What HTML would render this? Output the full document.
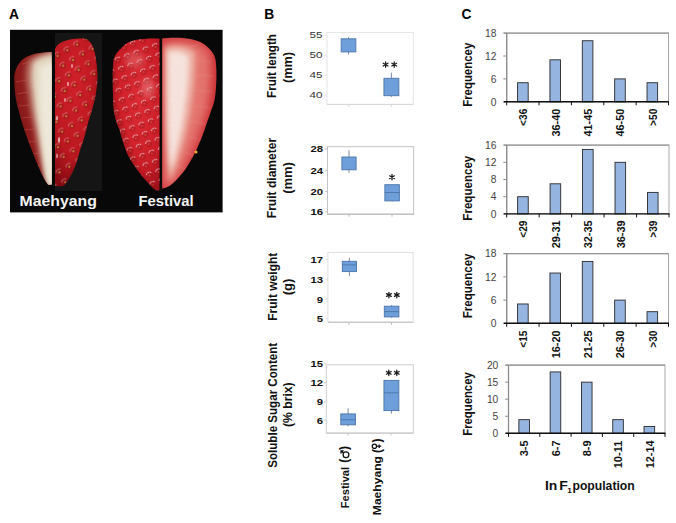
<!DOCTYPE html>
<html><head><meta charset="utf-8"><style>
html,body{margin:0;padding:0;background:#fff;}
body{width:676px;height:523px;overflow:hidden;}
svg{display:block;font-family:"Liberation Sans", sans-serif;}
</style></head><body>
<svg width="676" height="523" viewBox="0 0 676 523">
<rect width="676" height="523" fill="#fff"/>
<text x="9.00" y="18.70" font-size="13.8" font-weight="bold" fill="#000" text-anchor="start" >A</text>
<text x="264.20" y="18.80" font-size="13.8" font-weight="bold" fill="#000" text-anchor="start" >B</text>
<text x="461.50" y="18.70" font-size="13.8" font-weight="bold" fill="#000" text-anchor="start" >C</text>
<defs>
<filter id="b1" x="-20%" y="-20%" width="140%" height="140%"><feGaussianBlur stdDeviation="1"/></filter>
<filter id="b2" x="-30%" y="-30%" width="160%" height="160%"><feGaussianBlur stdDeviation="2.5"/></filter>
<filter id="b3" x="-30%" y="-30%" width="160%" height="160%"><feGaussianBlur stdDeviation="4"/></filter>
<filter id="b05"><feGaussianBlur stdDeviation="0.5"/></filter>
<radialGradient id="mskin" cx="0.45" cy="0.3" r="0.75">
  <stop offset="0" stop-color="#d0202a"/>
  <stop offset="0.65" stop-color="#bc1820"/>
  <stop offset="1" stop-color="#840a12"/>
</radialGradient>
<radialGradient id="fskin" cx="0.55" cy="0.4" r="0.75">
  <stop offset="0" stop-color="#dc2c34"/>
  <stop offset="0.6" stop-color="#cc1e28"/>
  <stop offset="1" stop-color="#8e0e18"/>
</radialGradient>
<linearGradient id="medge" x1="0" y1="0" x2="1" y2="0">
  <stop offset="0" stop-color="#7a1014"/>
  <stop offset="0.35" stop-color="#a82a2c"/>
  <stop offset="1" stop-color="#c46a60"/>
</linearGradient>
<linearGradient id="fcut" x1="0" y1="0" x2="1" y2="0">
  <stop offset="0" stop-color="#c8323a"/>
  <stop offset="0.5" stop-color="#e0646a"/>
  <stop offset="1" stop-color="#c42a34"/>
</linearGradient>
<clipPath id="cpM1"><path d="M51.7,52 C42,52 30,54 23.4,58.7 C17,64 14.2,72 14.2,78 C14.5,92 16,102 18.6,110 C22,124 27,138 31,148.2 C34,156 36.5,162 38.7,167.3 C42,175 45,181 48.2,184.8 L51.7,184.5 Z"/></clipPath>
<clipPath id="cpF2"><path d="M162.2,38.5 C170,37.5 182,37.5 190,39 C200,40.5 206,45 209.6,49.1 C213,53 215.3,56 215.8,62 C216.8,72 216.6,85 215,97 C214,104 212,108 210.6,112 C208,120 206,125 204.8,129.1 C202,137 200,142 197.2,148.2 C193,157 190,162 186.7,167.3 C182,174 177,180 172,184 C169,186.5 166,188.3 162.2,188.6 Z"/></clipPath>
<pattern id="fseed" patternUnits="userSpaceOnUse" width="14" height="14" patternTransform="rotate(25) translate(3 1)">
  <circle cx="3.5" cy="3.5" r="3.2" fill="#a00e1a" opacity="0.4"/>
  <circle cx="10.5" cy="10.5" r="3.2" fill="#a00e1a" opacity="0.4"/>
  <path d="M0.9,5.0 A3,3 0 0 1 4.2,0.6" stroke="#fbe0e0" stroke-width="1" fill="none" opacity="0.75"/>
  <path d="M7.9,12.0 A3,3 0 0 1 11.2,7.6" stroke="#fbe0e0" stroke-width="1" fill="none" opacity="0.75"/>
  <circle cx="3.8" cy="3.9" r="0.6" fill="#e8c070" opacity="0.7"/>
  <circle cx="10.8" cy="10.9" r="0.6" fill="#e8c070" opacity="0.7"/>
</pattern>
<pattern id="mseed" patternUnits="userSpaceOnUse" width="16" height="16" patternTransform="rotate(15) translate(2 3)">
  <circle cx="4" cy="4" r="3.1" fill="#8c0c14" opacity="0.35"/>
  <circle cx="12" cy="12" r="3.1" fill="#8c0c14" opacity="0.35"/>
  <path d="M1.2,5.6 A3.1,3.1 0 0 1 4.4,0.9" stroke="#f0c8c0" stroke-width="0.8" fill="none" opacity="0.65"/>
  <path d="M9.2,13.6 A3.1,3.1 0 0 1 12.4,8.9" stroke="#f0c8c0" stroke-width="0.8" fill="none" opacity="0.65"/>
  <circle cx="4.1" cy="4.2" r="1.1" fill="#b89840" opacity="0.9"/>
  <circle cx="12.1" cy="12.2" r="1.1" fill="#b89840" opacity="0.9"/>
</pattern>
</defs>
<g id="photo">
<rect x="10" y="29.8" width="212.6" height="182.6" fill="#080808"/>
<rect x="55" y="33" width="47" height="158" fill="#151515"/>

<!-- Maehyang cut half -->
<g clip-path="url(#cpM1)">
  <rect x="10" y="45" width="45" height="145" fill="#8e1c1c"/>
  <path d="M56,50 C46,50 36,53 28,60 C24,68 25,80 27,90 C29,105 31,118 34,130 C36,142 38,155 41,166 C43,175 45,182 46,188 L56,188 Z" fill="#b06458" filter="url(#b2)"/>
  <path d="M56,54 C47,54 39,57 33,62 C31,70 31,80 32.5,90 C34,105 35.5,118 38,130 C40,142 42,155 43.5,166 C45,175 46,182 47,188 L56,188 Z" fill="#e2d6c0" filter="url(#b2)"/>
  <path d="M56,62 C50,62 44,64 40,68 C39,80 39,95 40,108 C41,125 43,145 45,160 C46,170 47,178 48,184 L56,186 Z" fill="#eee8da" filter="url(#b2)"/>
  <g stroke="#c86a60" stroke-width="1.2" opacity="0.4" fill="none" filter="url(#b05)">
    <path d="M16,82 L27,80"/><path d="M17,94 L28,92"/><path d="M19,106 L30,105"/><path d="M21,118 L32,117"/><path d="M24,130 L34,129"/><path d="M28,142 L37,141"/><path d="M32,154 L39,153"/><path d="M36,166 L42,165"/><path d="M22,64 L30,62"/>
  </g>
  <path d="M14,60 C14,110 30,160 48,186 L10,190 L10,50 Z" fill="#3a0406" opacity="0.3" filter="url(#b2)"/>
</g>

<!-- Maehyang skin half -->
<clipPath id="cpM2"><path d="M55,49 C57,44 62,41 70,39.5 C76,38.6 82.5,38.2 86,39 C91,41 93.5,47 94.9,53 C96.5,62 97.6,70 97.4,78 C97.3,88 95,100 93,106.4 C91,114 88.5,120 87,127 C84.5,137 83,142 80.6,148.2 C78,157 77,162 74.8,167.3 C72,174 68,181 64.3,185.5 C61,186.5 58,186.5 55,186 Z"/></clipPath>
<g clip-path="url(#cpM2)">
  <rect x="54" y="36" width="46" height="152" fill="url(#mskin)"/>
  <rect x="54" y="36" width="46" height="152" fill="url(#mseed)"/>
  <g fill="#f2dada" opacity="0.75" filter="url(#b05)"><ellipse cx="57" cy="118" rx="0.9" ry="2.6"/><ellipse cx="59" cy="140" rx="1.1" ry="3"/><ellipse cx="57" cy="156" rx="0.8" ry="2.4"/><ellipse cx="68" cy="84" rx="0.9" ry="2.2"/><ellipse cx="72" cy="66" rx="0.8" ry="2"/><ellipse cx="65" cy="100" rx="0.8" ry="2"/></g>
  <path d="M100,40 C98,100 90,150 60,190 L110,190 L110,40 Z" fill="#5a060a" opacity="0.4" filter="url(#b2)"/>
</g>

<!-- Festival skin half -->
<clipPath id="cpF1"><path d="M159.5,38.6 C150,38.4 140,39 133.7,40.5 C128,42 124,45 122.2,47.2 C118,51 115,55 113.6,58.7 C112.6,66 112.6,80 113,95 C113.2,104 113.6,110 114.6,115 C116,121 117.5,125 119.3,129.1 C121,136 123,142 125.1,148.2 C128,156 131,161 135.6,167.3 C140,174 146,181 151,186 C153,188 155,190 156.6,190.3 L159.5,190.5 Z"/></clipPath>
<g clip-path="url(#cpF1)">
  <rect x="110" y="36" width="52" height="158" fill="url(#fskin)"/>
  <rect x="110" y="36" width="52" height="158" fill="url(#fseed)"/>
  <ellipse cx="148" cy="88" rx="7" ry="10" fill="#f4b4b4" opacity="0.35" filter="url(#b2)"/>
  <ellipse cx="135" cy="60" rx="10" ry="8" fill="#f0a0a0" opacity="0.3" filter="url(#b2)"/>
  <path d="M113,55 C112,110 125,160 157,192 L105,195 L105,50 Z" fill="#6a0810" opacity="0.35" filter="url(#b2)"/>
</g>

<!-- Festival cut half -->
<g clip-path="url(#cpF2)">
  <rect x="160" y="35" width="60" height="160" fill="#d23c40"/>
  <path d="M164,43 C180,40 200,42 208,52 C213,70 210,100 203,120 C196,140 188,160 178,178 C172,186 166,188 164,186 Z" fill="#e4746e" filter="url(#b3)"/>
  <path d="M165,47 C175,44 188,45 195,52 C196,75 193,100 188,125 C184,145 177,165 170,181 C167,170 165,120 165,80 Z" fill="#ecaea2" filter="url(#b2)"/>
  <path d="M168,52 C175,50 184,51 189,57 C189,80 186,100 183,120 C180,138 176,154 171,170 C168,150 168,110 168,80 Z" fill="#f6e2dc" filter="url(#b2)"/>
  <g stroke="#f0a098" stroke-width="1.2" opacity="0.35" fill="none" filter="url(#b1)">
    <path d="M190,60 L212,62"/><path d="M189,75 L214,76"/><path d="M188,90 L213,92"/><path d="M186,105 L211,108"/><path d="M184,120 L206,124"/><path d="M181,135 L201,140"/><path d="M178,150 L195,156"/><path d="M175,165 L187,170"/><path d="M185,48 L200,44"/>
  </g>
  <g fill="#fff4f0" opacity="0.8">
    <circle cx="172" cy="70" r="0.7"/><circle cx="175" cy="85" r="0.6"/><circle cx="173" cy="100" r="0.7"/><circle cx="176" cy="112" r="0.6"/><circle cx="172" cy="125" r="0.7"/><circle cx="174" cy="138" r="0.6"/><circle cx="171" cy="150" r="0.6"/><circle cx="178" cy="62" r="0.6"/>
  </g>
  <path d="M214,50 C219,100 207,150 172,193 L225,195 L225,40 Z" fill="#b01a22" opacity="0.35" filter="url(#b2)"/>
</g>
<circle cx="196" cy="152" r="1.5" fill="#e8b030"/>
</g>
<text x="19.6" y="206" font-size="14.6" font-weight="bold" fill="#f4f4f4" textLength="77.2" lengthAdjust="spacingAndGlyphs">Maehyang</text>
<text x="138.5" y="206" font-size="14.6" font-weight="bold" fill="#f4f4f4" textLength="55.2" lengthAdjust="spacingAndGlyphs">Festival</text>

<rect x="327" y="32.5" width="86.30" height="71.90" fill="#fff" stroke="#e6e6e6" stroke-width="1"/>
<line x1="327" y1="104.4" x2="413.3" y2="104.4" stroke="#d8d8d8" stroke-width="1"/>
<line x1="348.8" y1="104.4" x2="348.8" y2="106.9" stroke="#d8d8d8" stroke-width="1"/>
<line x1="391.3" y1="104.4" x2="391.3" y2="106.9" stroke="#d8d8d8" stroke-width="1"/>
<line x1="324.5" y1="35.4" x2="327" y2="35.4" stroke="#e6e6e6" stroke-width="1"/>
<text x="322.50" y="38.00" font-size="9.2" font-weight="normal" fill="#333" text-anchor="end" textLength="13.00" lengthAdjust="spacingAndGlyphs" >55</text>
<line x1="324.5" y1="55.3" x2="327" y2="55.3" stroke="#e6e6e6" stroke-width="1"/>
<text x="322.50" y="57.90" font-size="9.2" font-weight="normal" fill="#333" text-anchor="end" textLength="13.00" lengthAdjust="spacingAndGlyphs" >50</text>
<line x1="324.5" y1="75.4" x2="327" y2="75.4" stroke="#e6e6e6" stroke-width="1"/>
<text x="322.50" y="78.00" font-size="9.2" font-weight="normal" fill="#333" text-anchor="end" textLength="13.00" lengthAdjust="spacingAndGlyphs" >45</text>
<line x1="324.5" y1="95.2" x2="327" y2="95.2" stroke="#e6e6e6" stroke-width="1"/>
<text x="322.50" y="97.80" font-size="9.2" font-weight="normal" fill="#333" text-anchor="end" textLength="13.00" lengthAdjust="spacingAndGlyphs" >40</text>
<line x1="348.5" y1="37.2" x2="348.5" y2="54.6" stroke="#7a8ea8" stroke-width="1"/>
<rect x="341.15" y="38.8" width="14.7" height="13.10" fill="#6e9fda" stroke="#4c74a8" stroke-width="0.9"/>
<line x1="391.4" y1="72.6" x2="391.4" y2="96.9" stroke="#7a8ea8" stroke-width="1"/>
<rect x="383.95" y="78.3" width="14.9" height="17.40" fill="#6e9fda" stroke="#4c74a8" stroke-width="0.9"/>
<path d="M385.60,61.85 L385.60,67.35 M383.22,63.22 L387.98,65.97 M387.98,63.22 L383.22,65.97 " stroke="#1a1a1a" stroke-width="1.25" stroke-linecap="round"/>
<path d="M394.20,61.85 L394.20,67.35 M391.82,63.22 L396.58,65.97 M396.58,63.22 L391.82,65.97 " stroke="#1a1a1a" stroke-width="1.25" stroke-linecap="round"/>
<rect x="327.5" y="146.7" width="86.10" height="67.50" fill="#fff" stroke="#c4c4c4" stroke-width="1"/>
<line x1="327.5" y1="214.2" x2="413.6" y2="214.2" stroke="#b8b8b8" stroke-width="1"/>
<line x1="349" y1="214.2" x2="349" y2="216.7" stroke="#b8b8b8" stroke-width="1"/>
<line x1="392" y1="214.2" x2="392" y2="216.7" stroke="#b8b8b8" stroke-width="1"/>
<line x1="325.0" y1="148.9" x2="327.5" y2="148.9" stroke="#c4c4c4" stroke-width="1"/>
<text x="323.00" y="152.30" font-size="9.4" font-weight="bold" fill="#111" text-anchor="end" textLength="12.60" lengthAdjust="spacingAndGlyphs" >28</text>
<line x1="325.0" y1="170.2" x2="327.5" y2="170.2" stroke="#c4c4c4" stroke-width="1"/>
<text x="323.00" y="173.60" font-size="9.4" font-weight="bold" fill="#111" text-anchor="end" textLength="12.60" lengthAdjust="spacingAndGlyphs" >24</text>
<line x1="325.0" y1="191.5" x2="327.5" y2="191.5" stroke="#c4c4c4" stroke-width="1"/>
<text x="323.00" y="194.90" font-size="9.4" font-weight="bold" fill="#111" text-anchor="end" textLength="12.60" lengthAdjust="spacingAndGlyphs" >20</text>
<line x1="325.0" y1="211.9" x2="327.5" y2="211.9" stroke="#c4c4c4" stroke-width="1"/>
<text x="323.00" y="215.30" font-size="9.4" font-weight="bold" fill="#111" text-anchor="end" textLength="12.60" lengthAdjust="spacingAndGlyphs" >16</text>
<line x1="349" y1="150.3" x2="349" y2="172.8" stroke="#7a8ea8" stroke-width="1"/>
<rect x="341.90" y="157" width="14.2" height="12.80" fill="#6e9fda" stroke="#4c74a8" stroke-width="0.9"/>
<line x1="392.1" y1="184.7" x2="392.1" y2="201.5" stroke="#7a8ea8" stroke-width="1"/>
<rect x="384.85" y="184.7" width="14.5" height="16.20" fill="#6e9fda" stroke="#4c74a8" stroke-width="0.9"/>
<line x1="384.85" y1="192.5" x2="399.35" y2="192.5" stroke="#4c74a8" stroke-width="0.9"/>
<path d="M392.00,174.45 L392.00,179.95 M389.62,175.82 L394.38,178.57 M394.38,175.82 L389.62,178.57 " stroke="#1a1a1a" stroke-width="1.25" stroke-linecap="round"/>
<rect x="327.9" y="252.5" width="85.20" height="69.70" fill="#fff" stroke="#e0e0e0" stroke-width="1"/>
<line x1="327.9" y1="322.2" x2="413.1" y2="322.2" stroke="#bcbcbc" stroke-width="1"/>
<line x1="349" y1="322.2" x2="349" y2="324.7" stroke="#bcbcbc" stroke-width="1"/>
<line x1="391.5" y1="322.2" x2="391.5" y2="324.7" stroke="#bcbcbc" stroke-width="1"/>
<line x1="325.4" y1="259.6" x2="327.9" y2="259.6" stroke="#e0e0e0" stroke-width="1"/>
<text x="323.00" y="263.00" font-size="9.4" font-weight="bold" fill="#111" text-anchor="end" textLength="12.60" lengthAdjust="spacingAndGlyphs" >17</text>
<line x1="325.4" y1="279.6" x2="327.9" y2="279.6" stroke="#e0e0e0" stroke-width="1"/>
<text x="323.00" y="283.00" font-size="9.4" font-weight="bold" fill="#111" text-anchor="end" textLength="12.60" lengthAdjust="spacingAndGlyphs" >13</text>
<line x1="325.4" y1="299.1" x2="327.9" y2="299.1" stroke="#e0e0e0" stroke-width="1"/>
<text x="323.00" y="302.50" font-size="9.4" font-weight="bold" fill="#111" text-anchor="end" textLength="6.30" lengthAdjust="spacingAndGlyphs" >9</text>
<line x1="325.4" y1="318.7" x2="327.9" y2="318.7" stroke="#e0e0e0" stroke-width="1"/>
<text x="323.00" y="322.10" font-size="9.4" font-weight="bold" fill="#111" text-anchor="end" textLength="6.30" lengthAdjust="spacingAndGlyphs" >5</text>
<line x1="349.4" y1="257.8" x2="349.4" y2="276.1" stroke="#7a8ea8" stroke-width="1"/>
<rect x="342.30" y="261.3" width="14.2" height="10.30" fill="#6e9fda" stroke="#4c74a8" stroke-width="0.9"/>
<line x1="342.30" y1="264.9" x2="356.50" y2="264.9" stroke="#4c74a8" stroke-width="0.9"/>
<line x1="391.6" y1="305" x2="391.6" y2="317.8" stroke="#7a8ea8" stroke-width="1"/>
<rect x="384.30" y="306.2" width="14.6" height="10.70" fill="#6e9fda" stroke="#4c74a8" stroke-width="0.9"/>
<line x1="384.30" y1="311.6" x2="398.90" y2="311.6" stroke="#4c74a8" stroke-width="0.9"/>
<path d="M388.90,292.25 L388.90,297.75 M386.52,293.62 L391.28,296.38 M391.28,293.62 L386.52,296.38 " stroke="#1a1a1a" stroke-width="1.25" stroke-linecap="round"/>
<path d="M396.80,292.25 L396.80,297.75 M394.42,293.62 L399.18,296.38 M399.18,293.62 L394.42,296.38 " stroke="#1a1a1a" stroke-width="1.25" stroke-linecap="round"/>
<rect x="326.3" y="364.8" width="87.00" height="68.30" fill="#fff" stroke="#cfcfcf" stroke-width="1"/>
<line x1="326.3" y1="433.1" x2="413.3" y2="433.1" stroke="#c4c4c4" stroke-width="1"/>
<line x1="348" y1="433.1" x2="348" y2="435.6" stroke="#c4c4c4" stroke-width="1"/>
<line x1="391" y1="433.1" x2="391" y2="435.6" stroke="#c4c4c4" stroke-width="1"/>
<line x1="323.8" y1="363.9" x2="326.3" y2="363.9" stroke="#cfcfcf" stroke-width="1"/>
<text x="323.00" y="367.30" font-size="9.4" font-weight="bold" fill="#111" text-anchor="end" textLength="12.60" lengthAdjust="spacingAndGlyphs" >15</text>
<line x1="323.8" y1="383" x2="326.3" y2="383" stroke="#cfcfcf" stroke-width="1"/>
<text x="323.00" y="386.40" font-size="9.4" font-weight="bold" fill="#111" text-anchor="end" textLength="12.60" lengthAdjust="spacingAndGlyphs" >12</text>
<line x1="323.8" y1="402" x2="326.3" y2="402" stroke="#cfcfcf" stroke-width="1"/>
<text x="323.00" y="405.40" font-size="9.4" font-weight="bold" fill="#111" text-anchor="end" textLength="6.30" lengthAdjust="spacingAndGlyphs" >9</text>
<line x1="323.8" y1="420.3" x2="326.3" y2="420.3" stroke="#cfcfcf" stroke-width="1"/>
<text x="323.00" y="423.70" font-size="9.4" font-weight="bold" fill="#111" text-anchor="end" textLength="6.30" lengthAdjust="spacingAndGlyphs" >6</text>
<line x1="348.1" y1="408.3" x2="348.1" y2="426.4" stroke="#7a8ea8" stroke-width="1"/>
<rect x="340.80" y="413.9" width="14.6" height="10.90" fill="#6e9fda" stroke="#4c74a8" stroke-width="0.9"/>
<line x1="340.80" y1="419.8" x2="355.40" y2="419.8" stroke="#4c74a8" stroke-width="0.9"/>
<line x1="391.4" y1="380.4" x2="391.4" y2="413.6" stroke="#7a8ea8" stroke-width="1"/>
<rect x="383.95" y="380.4" width="14.9" height="30.20" fill="#6e9fda" stroke="#4c74a8" stroke-width="0.9"/>
<line x1="383.95" y1="392.8" x2="398.85" y2="392.8" stroke="#4c74a8" stroke-width="0.9"/>
<path d="M388.80,370.05 L388.80,375.55 M386.42,371.43 L391.18,374.18 M391.18,371.43 L386.42,374.18 " stroke="#1a1a1a" stroke-width="1.25" stroke-linecap="round"/>
<path d="M396.80,370.05 L396.80,375.55 M394.42,371.43 L399.18,374.18 M399.18,371.43 L394.42,374.18 " stroke="#1a1a1a" stroke-width="1.25" stroke-linecap="round"/>
<text x="275.80" y="66.00" font-size="12.0" font-weight="bold" fill="#111" text-anchor="middle" textLength="63.90" lengthAdjust="spacingAndGlyphs" transform="rotate(-90 275.80 66.00)" >Fruit length</text>
<text x="292.00" y="67.50" font-size="12.0" font-weight="bold" fill="#111" text-anchor="middle" textLength="31.10" lengthAdjust="spacingAndGlyphs" transform="rotate(-90 292.00 67.50)" >(mm)</text>
<text x="276.20" y="178.00" font-size="12.0" font-weight="bold" fill="#111" text-anchor="middle" textLength="80.40" lengthAdjust="spacingAndGlyphs" transform="rotate(-90 276.20 178.00)" >Fruit diameter</text>
<text x="292.30" y="178.00" font-size="12.0" font-weight="bold" fill="#111" text-anchor="middle" textLength="31.70" lengthAdjust="spacingAndGlyphs" transform="rotate(-90 292.30 178.00)" >(mm)</text>
<text x="276.60" y="286.70" font-size="12.0" font-weight="bold" fill="#111" text-anchor="middle" textLength="68.00" lengthAdjust="spacingAndGlyphs" transform="rotate(-90 276.60 286.70)" >Fruit weight</text>
<text x="292.40" y="286.90" font-size="12.0" font-weight="bold" fill="#111" text-anchor="middle" textLength="16.80" lengthAdjust="spacingAndGlyphs" transform="rotate(-90 292.40 286.90)" >(g)</text>
<text x="277.00" y="405.30" font-size="12.0" font-weight="bold" fill="#111" text-anchor="middle" textLength="124.90" lengthAdjust="spacingAndGlyphs" transform="rotate(-90 277.00 405.30)" >Soluble Sugar Content</text>
<text x="292.40" y="404.70" font-size="12.0" font-weight="bold" fill="#111" text-anchor="middle" textLength="44.60" lengthAdjust="spacingAndGlyphs" transform="rotate(-90 292.40 404.70)" >(% brix)</text>
<text x="471.80" y="74.80" font-size="12.0" font-weight="bold" fill="#111" text-anchor="middle" textLength="64.10" lengthAdjust="spacingAndGlyphs" transform="rotate(-90 471.80 74.80)" >Frequencey</text>
<text x="471.80" y="188.20" font-size="12.0" font-weight="bold" fill="#111" text-anchor="middle" textLength="64.90" lengthAdjust="spacingAndGlyphs" transform="rotate(-90 471.80 188.20)" >Frequencey</text>
<text x="471.80" y="285.90" font-size="12.0" font-weight="bold" fill="#111" text-anchor="middle" textLength="64.90" lengthAdjust="spacingAndGlyphs" transform="rotate(-90 471.80 285.90)" >Frequencey</text>
<text x="471.80" y="404.00" font-size="12.0" font-weight="bold" fill="#111" text-anchor="middle" textLength="63.50" lengthAdjust="spacingAndGlyphs" transform="rotate(-90 471.80 404.00)" >Frequencey</text>
<g transform="translate(349.3 0) rotate(-90)" font-size="11.6" font-weight="bold" fill="#111">
<text x="-508.20" y="0" textLength="41.30" lengthAdjust="spacingAndGlyphs">Festival</text>
<text x="-462.80" y="-0.9" font-size="12">(</text>
<text x="-449.90" y="-0.9" font-size="12">)</text>
<g fill="none" stroke="#111" stroke-width="1.25"><circle cx="-454.8" cy="-3.3" r="2.9"/><path d="M-452.9,-5.7 L-451.0,-8.1 M-453.6,-8.3 L-450.8,-8.3 L-450.8,-5.6"/></g>
</g>
<g transform="translate(381.4 0) rotate(-90)" font-size="11.6" font-weight="bold" fill="#111">
<text x="-515.20" y="0" textLength="59.10" lengthAdjust="spacingAndGlyphs">Maehyang</text>
<text x="-452.90" y="-0.9" font-size="12">(</text>
<text x="-442.50" y="-0.9" font-size="12">)</text>
<g fill="none" stroke="#111" stroke-width="1.25"><circle cx="-446.2" cy="-7.0" r="2.2"/><path d="M-446.2,-4.8 L-446.2,-0.2 M-447.9,-2.2 L-444.5,-2.2"/></g>
</g>
<rect x="506.7" y="33.1" width="161.80" height="68.70" fill="#fff" stroke="#a8a8a8" stroke-width="1"/>
<line x1="503.7" y1="33.1" x2="668.5" y2="33.1" stroke="#8c8c8c" stroke-width="1"/>
<line x1="506.7" y1="33.1" x2="506.7" y2="101.8" stroke="#8c8c8c" stroke-width="1.3"/>
<line x1="503.3" y1="101.80" x2="506.7" y2="101.80" stroke="#8c8c8c" stroke-width="1"/>
<text x="496.40" y="105.50" font-size="10.0" font-weight="normal" fill="#444" text-anchor="end" textLength="5.70" lengthAdjust="spacingAndGlyphs" >0</text>
<line x1="503.3" y1="78.90" x2="506.7" y2="78.90" stroke="#8c8c8c" stroke-width="1"/>
<text x="496.40" y="82.60" font-size="10.0" font-weight="normal" fill="#444" text-anchor="end" textLength="5.70" lengthAdjust="spacingAndGlyphs" >6</text>
<line x1="503.3" y1="56.00" x2="506.7" y2="56.00" stroke="#8c8c8c" stroke-width="1"/>
<text x="496.40" y="59.70" font-size="10.0" font-weight="normal" fill="#444" text-anchor="end" textLength="11.40" lengthAdjust="spacingAndGlyphs" >12</text>
<line x1="503.3" y1="33.10" x2="506.7" y2="33.10" stroke="#8c8c8c" stroke-width="1"/>
<text x="496.40" y="36.80" font-size="10.0" font-weight="normal" fill="#444" text-anchor="end" textLength="11.40" lengthAdjust="spacingAndGlyphs" >18</text>
<rect x="517.58" y="82.72" width="10.6" height="19.08" fill="#95b4e0" stroke="#2a2a2a" stroke-width="0.9"/>
<rect x="549.94" y="59.82" width="10.6" height="41.98" fill="#95b4e0" stroke="#2a2a2a" stroke-width="0.9"/>
<rect x="582.30" y="40.73" width="10.6" height="61.07" fill="#95b4e0" stroke="#2a2a2a" stroke-width="0.9"/>
<rect x="614.66" y="78.90" width="10.6" height="22.90" fill="#95b4e0" stroke="#2a2a2a" stroke-width="0.9"/>
<rect x="647.02" y="82.72" width="10.6" height="19.08" fill="#95b4e0" stroke="#2a2a2a" stroke-width="0.9"/>
<line x1="503.7" y1="101.8" x2="669.0" y2="101.8" stroke="#111" stroke-width="1.4"/>
<line x1="506.70" y1="101.8" x2="506.70" y2="105.3" stroke="#111" stroke-width="1"/>
<line x1="539.06" y1="101.8" x2="539.06" y2="105.3" stroke="#111" stroke-width="1"/>
<line x1="571.42" y1="101.8" x2="571.42" y2="105.3" stroke="#111" stroke-width="1"/>
<line x1="603.78" y1="101.8" x2="603.78" y2="105.3" stroke="#111" stroke-width="1"/>
<line x1="636.14" y1="101.8" x2="636.14" y2="105.3" stroke="#111" stroke-width="1"/>
<line x1="668.50" y1="101.8" x2="668.50" y2="105.3" stroke="#111" stroke-width="1"/>
<text x="527.18" y="108.70" font-size="10.4" font-weight="bold" fill="#111" text-anchor="end" textLength="17.20" lengthAdjust="spacingAndGlyphs" transform="rotate(-90 527.18 108.70)" >&lt;36</text>
<text x="559.54" y="108.70" font-size="10.4" font-weight="bold" fill="#111" text-anchor="end" textLength="27.80" lengthAdjust="spacingAndGlyphs" transform="rotate(-90 559.54 108.70)" >36-40</text>
<text x="591.90" y="108.70" font-size="10.4" font-weight="bold" fill="#111" text-anchor="end" textLength="27.80" lengthAdjust="spacingAndGlyphs" transform="rotate(-90 591.90 108.70)" >41-45</text>
<text x="624.26" y="108.70" font-size="10.4" font-weight="bold" fill="#111" text-anchor="end" textLength="27.80" lengthAdjust="spacingAndGlyphs" transform="rotate(-90 624.26 108.70)" >46-50</text>
<text x="656.62" y="108.70" font-size="10.4" font-weight="bold" fill="#111" text-anchor="end" textLength="17.20" lengthAdjust="spacingAndGlyphs" transform="rotate(-90 656.62 108.70)" >&gt;50</text>
<rect x="506.7" y="145.1" width="162.30" height="68.80" fill="#fff" stroke="#a8a8a8" stroke-width="1"/>
<line x1="503.7" y1="145.1" x2="669" y2="145.1" stroke="#8c8c8c" stroke-width="1"/>
<line x1="506.7" y1="145.1" x2="506.7" y2="213.9" stroke="#8c8c8c" stroke-width="1.3"/>
<line x1="503.3" y1="213.90" x2="506.7" y2="213.90" stroke="#8c8c8c" stroke-width="1"/>
<text x="496.40" y="217.60" font-size="10.0" font-weight="normal" fill="#444" text-anchor="end" textLength="5.70" lengthAdjust="spacingAndGlyphs" >0</text>
<line x1="503.3" y1="196.70" x2="506.7" y2="196.70" stroke="#8c8c8c" stroke-width="1"/>
<text x="496.40" y="200.40" font-size="10.0" font-weight="normal" fill="#444" text-anchor="end" textLength="5.70" lengthAdjust="spacingAndGlyphs" >4</text>
<line x1="503.3" y1="179.50" x2="506.7" y2="179.50" stroke="#8c8c8c" stroke-width="1"/>
<text x="496.40" y="183.20" font-size="10.0" font-weight="normal" fill="#444" text-anchor="end" textLength="5.70" lengthAdjust="spacingAndGlyphs" >8</text>
<line x1="503.3" y1="162.30" x2="506.7" y2="162.30" stroke="#8c8c8c" stroke-width="1"/>
<text x="496.40" y="166.00" font-size="10.0" font-weight="normal" fill="#444" text-anchor="end" textLength="11.40" lengthAdjust="spacingAndGlyphs" >12</text>
<line x1="503.3" y1="145.10" x2="506.7" y2="145.10" stroke="#8c8c8c" stroke-width="1"/>
<text x="496.40" y="148.80" font-size="10.0" font-weight="normal" fill="#444" text-anchor="end" textLength="11.40" lengthAdjust="spacingAndGlyphs" >16</text>
<rect x="517.63" y="196.70" width="10.6" height="17.20" fill="#95b4e0" stroke="#2a2a2a" stroke-width="0.9"/>
<rect x="550.09" y="183.80" width="10.6" height="30.10" fill="#95b4e0" stroke="#2a2a2a" stroke-width="0.9"/>
<rect x="582.55" y="149.40" width="10.6" height="64.50" fill="#95b4e0" stroke="#2a2a2a" stroke-width="0.9"/>
<rect x="615.01" y="162.30" width="10.6" height="51.60" fill="#95b4e0" stroke="#2a2a2a" stroke-width="0.9"/>
<rect x="647.47" y="192.40" width="10.6" height="21.50" fill="#95b4e0" stroke="#2a2a2a" stroke-width="0.9"/>
<line x1="503.7" y1="213.9" x2="669.5" y2="213.9" stroke="#111" stroke-width="1.4"/>
<line x1="506.70" y1="213.9" x2="506.70" y2="217.4" stroke="#111" stroke-width="1"/>
<line x1="539.16" y1="213.9" x2="539.16" y2="217.4" stroke="#111" stroke-width="1"/>
<line x1="571.62" y1="213.9" x2="571.62" y2="217.4" stroke="#111" stroke-width="1"/>
<line x1="604.08" y1="213.9" x2="604.08" y2="217.4" stroke="#111" stroke-width="1"/>
<line x1="636.54" y1="213.9" x2="636.54" y2="217.4" stroke="#111" stroke-width="1"/>
<line x1="669.00" y1="213.9" x2="669.00" y2="217.4" stroke="#111" stroke-width="1"/>
<text x="527.23" y="220.50" font-size="10.4" font-weight="bold" fill="#111" text-anchor="end" textLength="17.20" lengthAdjust="spacingAndGlyphs" transform="rotate(-90 527.23 220.50)" >&lt;29</text>
<text x="559.69" y="220.50" font-size="10.4" font-weight="bold" fill="#111" text-anchor="end" textLength="27.80" lengthAdjust="spacingAndGlyphs" transform="rotate(-90 559.69 220.50)" >29-31</text>
<text x="592.15" y="220.50" font-size="10.4" font-weight="bold" fill="#111" text-anchor="end" textLength="27.80" lengthAdjust="spacingAndGlyphs" transform="rotate(-90 592.15 220.50)" >32-35</text>
<text x="624.61" y="220.50" font-size="10.4" font-weight="bold" fill="#111" text-anchor="end" textLength="27.80" lengthAdjust="spacingAndGlyphs" transform="rotate(-90 624.61 220.50)" >36-39</text>
<text x="657.07" y="220.50" font-size="10.4" font-weight="bold" fill="#111" text-anchor="end" textLength="17.20" lengthAdjust="spacingAndGlyphs" transform="rotate(-90 657.07 220.50)" >&gt;39</text>
<rect x="506.7" y="253.7" width="161.80" height="69.60" fill="#fff" stroke="#a8a8a8" stroke-width="1"/>
<line x1="503.7" y1="253.7" x2="668.5" y2="253.7" stroke="#8c8c8c" stroke-width="1"/>
<line x1="506.7" y1="253.7" x2="506.7" y2="323.3" stroke="#8c8c8c" stroke-width="1.3"/>
<line x1="503.3" y1="323.30" x2="506.7" y2="323.30" stroke="#8c8c8c" stroke-width="1"/>
<text x="496.40" y="327.00" font-size="10.0" font-weight="normal" fill="#444" text-anchor="end" textLength="5.70" lengthAdjust="spacingAndGlyphs" >0</text>
<line x1="503.3" y1="300.10" x2="506.7" y2="300.10" stroke="#8c8c8c" stroke-width="1"/>
<text x="496.40" y="303.80" font-size="10.0" font-weight="normal" fill="#444" text-anchor="end" textLength="5.70" lengthAdjust="spacingAndGlyphs" >6</text>
<line x1="503.3" y1="276.90" x2="506.7" y2="276.90" stroke="#8c8c8c" stroke-width="1"/>
<text x="496.40" y="280.60" font-size="10.0" font-weight="normal" fill="#444" text-anchor="end" textLength="11.40" lengthAdjust="spacingAndGlyphs" >12</text>
<line x1="503.3" y1="253.70" x2="506.7" y2="253.70" stroke="#8c8c8c" stroke-width="1"/>
<text x="496.40" y="257.40" font-size="10.0" font-weight="normal" fill="#444" text-anchor="end" textLength="11.40" lengthAdjust="spacingAndGlyphs" >18</text>
<rect x="517.58" y="303.97" width="10.6" height="19.33" fill="#95b4e0" stroke="#2a2a2a" stroke-width="0.9"/>
<rect x="549.94" y="273.03" width="10.6" height="50.27" fill="#95b4e0" stroke="#2a2a2a" stroke-width="0.9"/>
<rect x="582.30" y="261.43" width="10.6" height="61.87" fill="#95b4e0" stroke="#2a2a2a" stroke-width="0.9"/>
<rect x="614.66" y="300.10" width="10.6" height="23.20" fill="#95b4e0" stroke="#2a2a2a" stroke-width="0.9"/>
<rect x="647.02" y="311.70" width="10.6" height="11.60" fill="#95b4e0" stroke="#2a2a2a" stroke-width="0.9"/>
<line x1="503.7" y1="323.3" x2="669.0" y2="323.3" stroke="#111" stroke-width="1.4"/>
<line x1="506.70" y1="323.3" x2="506.70" y2="326.8" stroke="#111" stroke-width="1"/>
<line x1="539.06" y1="323.3" x2="539.06" y2="326.8" stroke="#111" stroke-width="1"/>
<line x1="571.42" y1="323.3" x2="571.42" y2="326.8" stroke="#111" stroke-width="1"/>
<line x1="603.78" y1="323.3" x2="603.78" y2="326.8" stroke="#111" stroke-width="1"/>
<line x1="636.14" y1="323.3" x2="636.14" y2="326.8" stroke="#111" stroke-width="1"/>
<line x1="668.50" y1="323.3" x2="668.50" y2="326.8" stroke="#111" stroke-width="1"/>
<text x="527.18" y="330.50" font-size="10.4" font-weight="bold" fill="#111" text-anchor="end" textLength="17.20" lengthAdjust="spacingAndGlyphs" transform="rotate(-90 527.18 330.50)" >&lt;15</text>
<text x="559.54" y="330.50" font-size="10.4" font-weight="bold" fill="#111" text-anchor="end" textLength="27.80" lengthAdjust="spacingAndGlyphs" transform="rotate(-90 559.54 330.50)" >16-20</text>
<text x="591.90" y="330.50" font-size="10.4" font-weight="bold" fill="#111" text-anchor="end" textLength="27.80" lengthAdjust="spacingAndGlyphs" transform="rotate(-90 591.90 330.50)" >21-25</text>
<text x="624.26" y="330.50" font-size="10.4" font-weight="bold" fill="#111" text-anchor="end" textLength="27.80" lengthAdjust="spacingAndGlyphs" transform="rotate(-90 624.26 330.50)" >26-30</text>
<text x="656.62" y="330.50" font-size="10.4" font-weight="bold" fill="#111" text-anchor="end" textLength="17.20" lengthAdjust="spacingAndGlyphs" transform="rotate(-90 656.62 330.50)" >&gt;30</text>
<rect x="508.5" y="365.1" width="156.50" height="68.20" fill="#fff" stroke="#a8a8a8" stroke-width="1"/>
<line x1="505.5" y1="365.1" x2="665" y2="365.1" stroke="#8c8c8c" stroke-width="1"/>
<line x1="508.5" y1="365.1" x2="508.5" y2="433.3" stroke="#8c8c8c" stroke-width="1.3"/>
<line x1="505.1" y1="433.30" x2="508.5" y2="433.30" stroke="#8c8c8c" stroke-width="1"/>
<text x="498.30" y="437.00" font-size="10.0" font-weight="normal" fill="#444" text-anchor="end" textLength="5.70" lengthAdjust="spacingAndGlyphs" >0</text>
<line x1="505.1" y1="416.25" x2="508.5" y2="416.25" stroke="#8c8c8c" stroke-width="1"/>
<text x="498.30" y="419.95" font-size="10.0" font-weight="normal" fill="#444" text-anchor="end" textLength="5.70" lengthAdjust="spacingAndGlyphs" >5</text>
<line x1="505.1" y1="399.20" x2="508.5" y2="399.20" stroke="#8c8c8c" stroke-width="1"/>
<text x="498.30" y="402.90" font-size="10.0" font-weight="normal" fill="#444" text-anchor="end" textLength="11.40" lengthAdjust="spacingAndGlyphs" >10</text>
<line x1="505.1" y1="382.15" x2="508.5" y2="382.15" stroke="#8c8c8c" stroke-width="1"/>
<text x="498.30" y="385.85" font-size="10.0" font-weight="normal" fill="#444" text-anchor="end" textLength="11.40" lengthAdjust="spacingAndGlyphs" >15</text>
<line x1="505.1" y1="365.10" x2="508.5" y2="365.10" stroke="#8c8c8c" stroke-width="1"/>
<text x="498.30" y="368.80" font-size="10.0" font-weight="normal" fill="#444" text-anchor="end" textLength="11.40" lengthAdjust="spacingAndGlyphs" >20</text>
<rect x="518.85" y="419.66" width="10.6" height="13.64" fill="#95b4e0" stroke="#2a2a2a" stroke-width="0.9"/>
<rect x="550.15" y="371.92" width="10.6" height="61.38" fill="#95b4e0" stroke="#2a2a2a" stroke-width="0.9"/>
<rect x="581.45" y="382.15" width="10.6" height="51.15" fill="#95b4e0" stroke="#2a2a2a" stroke-width="0.9"/>
<rect x="612.75" y="419.66" width="10.6" height="13.64" fill="#95b4e0" stroke="#2a2a2a" stroke-width="0.9"/>
<rect x="644.05" y="426.48" width="10.6" height="6.82" fill="#95b4e0" stroke="#2a2a2a" stroke-width="0.9"/>
<line x1="505.5" y1="433.3" x2="665.5" y2="433.3" stroke="#111" stroke-width="1.4"/>
<line x1="508.50" y1="433.3" x2="508.50" y2="436.8" stroke="#111" stroke-width="1"/>
<line x1="539.80" y1="433.3" x2="539.80" y2="436.8" stroke="#111" stroke-width="1"/>
<line x1="571.10" y1="433.3" x2="571.10" y2="436.8" stroke="#111" stroke-width="1"/>
<line x1="602.40" y1="433.3" x2="602.40" y2="436.8" stroke="#111" stroke-width="1"/>
<line x1="633.70" y1="433.3" x2="633.70" y2="436.8" stroke="#111" stroke-width="1"/>
<line x1="665.00" y1="433.3" x2="665.00" y2="436.8" stroke="#111" stroke-width="1"/>
<text x="528.45" y="440.50" font-size="10.4" font-weight="bold" fill="#111" text-anchor="end" textLength="15.80" lengthAdjust="spacingAndGlyphs" transform="rotate(-90 528.45 440.50)" >3-5</text>
<text x="559.75" y="440.50" font-size="10.4" font-weight="bold" fill="#111" text-anchor="end" textLength="15.80" lengthAdjust="spacingAndGlyphs" transform="rotate(-90 559.75 440.50)" >6-7</text>
<text x="591.05" y="440.50" font-size="10.4" font-weight="bold" fill="#111" text-anchor="end" textLength="15.80" lengthAdjust="spacingAndGlyphs" transform="rotate(-90 591.05 440.50)" >8-9</text>
<text x="622.35" y="440.50" font-size="10.4" font-weight="bold" fill="#111" text-anchor="end" textLength="27.80" lengthAdjust="spacingAndGlyphs" transform="rotate(-90 622.35 440.50)" >10-11</text>
<text x="653.65" y="440.50" font-size="10.4" font-weight="bold" fill="#111" text-anchor="end" textLength="27.80" lengthAdjust="spacingAndGlyphs" transform="rotate(-90 653.65 440.50)" >12-14</text>
<g font-size="12" font-weight="bold" fill="#111"><text x="545.0" y="490.1" textLength="12.4" lengthAdjust="spacingAndGlyphs">In</text><text x="559.2" y="490.1" textLength="8.6" lengthAdjust="spacingAndGlyphs">F</text><text x="567.2" y="492.6" font-size="8" textLength="4.6" lengthAdjust="spacingAndGlyphs">1</text><text x="572.5" y="490.1" textLength="62.2" lengthAdjust="spacingAndGlyphs">population</text></g>
</svg>
</body></html>
